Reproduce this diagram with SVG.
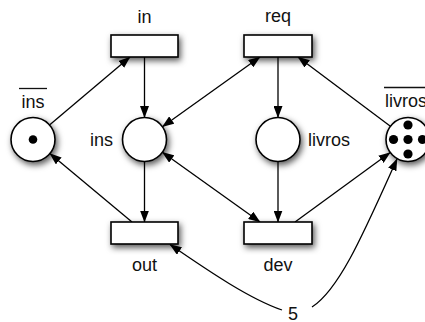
<svg xmlns="http://www.w3.org/2000/svg" width="425" height="322" viewBox="0 0 425 322">
  <defs>
    <filter id="shadow" x="-50%" y="-50%" width="200%" height="200%">
      <feDropShadow dx="2" dy="3" stdDeviation="3" flood-color="#000" flood-opacity="0.65"/>
    </filter>
    <marker id="arrow" viewBox="0 0 12 9" refX="11.5" refY="4.5" markerWidth="12" markerHeight="9" markerUnits="userSpaceOnUse" orient="auto-start-reverse">
      <path d="M0,0 L12,4.5 L0,9 z" fill="#000"/>
    </marker>
  </defs>
  <style>
    .place { fill: #fff; stroke: #000; stroke-width: 1.6; filter: url(#shadow); }
    .trans { fill: #fff; stroke: #000; stroke-width: 1.6; filter: url(#shadow); }
    .token { fill: #000; }
    .arc { fill: none; stroke: #000; stroke-width: 1.3; }
    .one { marker-end: url(#arrow); }
    .two { marker-start: url(#arrow); marker-end: url(#arrow); }
    .label { font-family: "Liberation Sans", Arial, sans-serif; font-size: 18px; fill: #111; }
    .bar { stroke: #111; stroke-width: 1.3; }
  </style>

  <!-- arcs -->
  <g id="arcs">
    <line class="arc one" x1="49.8" y1="124.8" x2="130" y2="57"/>
    <line class="arc one" x1="144.5" y1="57" x2="144.5" y2="117.5"/>
    <line class="arc two" x1="162.4" y1="126.7" x2="260" y2="57"/>
    <line class="arc one" x1="278" y1="57" x2="278" y2="117.5"/>
    <line class="arc one" x1="390.4" y1="126.3" x2="298" y2="57"/>
    <line class="arc one" x1="144.5" y1="161.5" x2="144.5" y2="222"/>
    <line class="arc one" x1="132" y1="222" x2="49.9" y2="153.6"/>
    <line class="arc two" x1="162.4" y1="152.3" x2="260" y2="222"/>
    <line class="arc one" x1="278" y1="161.5" x2="278" y2="222"/>
    <line class="arc one" x1="295" y1="222" x2="390.2" y2="152.5"/>
    <!-- weighted arc, split around its weight label -->
    <path class="arc one" d="M282,310 C250,299 210,272 170,244.5"/>
    <path class="arc one" d="M312,307 C340,289 365,230 397,159"/>
    <text class="label" x="293" y="319.5" text-anchor="middle">5</text>
  </g>

  <!-- places -->
  <g id="p-ins-bar">
    <circle class="place" cx="33" cy="139.5" r="22"/>
    <circle class="token" cx="33" cy="139.5" r="4.3"/>
    <text class="label" x="33" y="108" text-anchor="middle">ins</text>
    <line class="bar" x1="19" y1="88.5" x2="47" y2="88.5"/>
  </g>
  <g id="p-ins">
    <circle class="place" cx="144.5" cy="139.5" r="22"/>
    <text class="label" x="113" y="146" text-anchor="end">ins</text>
  </g>
  <g id="p-livros">
    <circle class="place" cx="278" cy="139.5" r="22"/>
    <text class="label" x="308" y="146">livros</text>
  </g>
  <g id="p-livros-bar">
    <circle class="place" cx="408" cy="139.5" r="22"/>
    <circle class="token" cx="408" cy="125" r="4.6"/>
    <circle class="token" cx="408" cy="139.5" r="4.6"/>
    <circle class="token" cx="408" cy="154" r="4.6"/>
    <circle class="token" cx="393.5" cy="139.5" r="4.6"/>
    <circle class="token" cx="422.5" cy="139.5" r="4.6"/>
    <text class="label" x="385" y="107">livros</text>
    <line class="bar" x1="384" y1="87.5" x2="425" y2="87.5"/>
  </g>

  <!-- transitions -->
  <g id="t-in">
    <rect class="trans" x="111" y="35" width="67" height="22"/>
    <text class="label" x="144.5" y="23" text-anchor="middle">in</text>
  </g>
  <g id="t-req">
    <rect class="trans" x="244" y="35" width="68" height="22"/>
    <text class="label" x="278" y="22" text-anchor="middle">req</text>
  </g>
  <g id="t-out">
    <rect class="trans" x="111" y="222" width="67" height="22"/>
    <text class="label" x="144.5" y="271" text-anchor="middle">out</text>
  </g>
  <g id="t-dev">
    <rect class="trans" x="244" y="222" width="68" height="22"/>
    <text class="label" x="278" y="271" text-anchor="middle">dev</text>
  </g>
</svg>
